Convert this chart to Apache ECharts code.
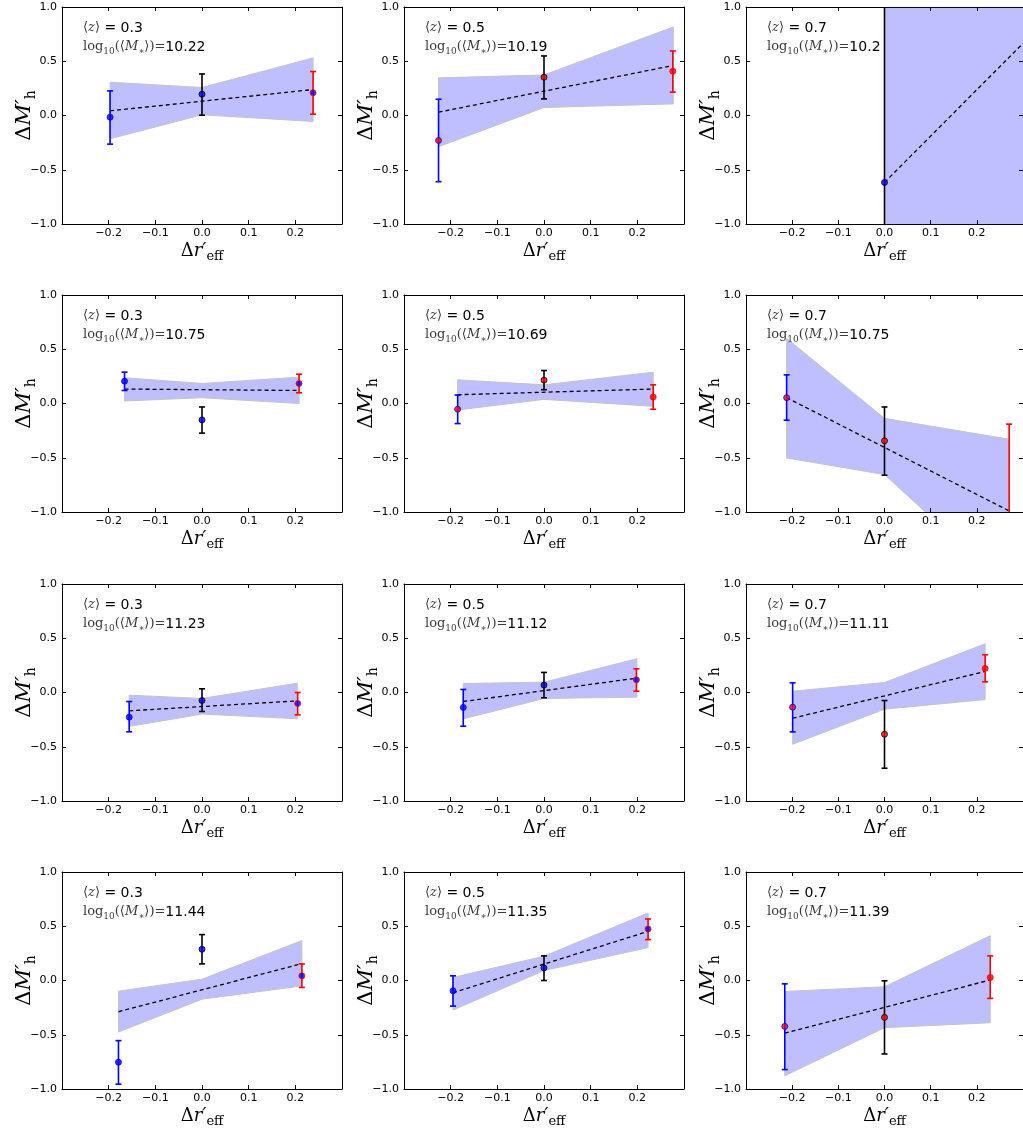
<!DOCTYPE html>
<html>
<head>
<meta charset="utf-8">
<script src="https://cdn.jsdelivr.net/npm/echarts@6/dist/echarts.min.js"></script>
<style>
html, body { margin: 0; padding: 0; background: #fff; }
#chart { width: 1023px; height: 1132px; }
</style>
</head>
<body>
<div id="chart"></div>
<script>
// 12 panels, read row by row (rows: mass bins, columns: redshift)
var zMean = ['0.3', '0.5', '0.7', '0.3', '0.5', '0.7', '0.3', '0.5', '0.7', '0.3', '0.5', '0.7'];
var logMass = ['10.22', '10.19', '10.2', '10.75', '10.69', '10.75', '11.23', '11.12', '11.11', '11.44', '11.35', '11.39'];

// three points per panel: blue (small r_eff), black (middle), red (large r_eff)
var pointX = [
    [-0.197, 0, 0.238], [-0.226, 0, 0.276], [null, 0, null],
    [-0.166, 0, 0.208], [-0.185, 0, 0.234], [-0.212, 0, 0.270],
    [-0.156, 0, 0.205], [-0.173, 0, 0.198], [-0.199, 0, 0.218],
    [-0.179, 0, 0.214], [-0.195, 0, 0.223], [-0.216, 0, 0.229]
];
var pointY = [
    [-0.015, 0.196, 0.209], [-0.230, 0.353, 0.408], [null, -0.617, null],
    [0.206, -0.151, 0.185], [-0.053, 0.215, 0.060], [0.054, -0.344, -1.070],
    [-0.227, -0.074, -0.101], [-0.138, 0.068, 0.117], [-0.135, -0.385, 0.222],
    [-0.753, 0.288, 0.043], [-0.095, 0.116, 0.475], [-0.423, -0.340, 0.028]
];
var errLow = [
    [-0.264, 0.003, 0.012], [-0.610, 0.153, 0.215], [null, -1.500, null],
    [0.120, -0.273, 0.099], [-0.185, 0.127, -0.053], [-0.154, -0.661, -1.900],
    [-0.362, -0.175, -0.206], [-0.311, -0.049, 0.012], [-0.363, -0.698, 0.098],
    [-0.956, 0.153, -0.064], [-0.236, 0.000, 0.377], [-0.821, -0.677, -0.165]
];
var errHigh = [
    [0.227, 0.383, 0.405], [0.150, 0.549, 0.595], [null, 1.500, null],
    [0.289, -0.032, 0.270], [0.078, 0.304, 0.172], [0.264, -0.032, -0.190],
    [-0.083, 0.034, 0.000], [0.028, 0.185, 0.218], [0.089, -0.074, 0.348],
    [-0.554, 0.423, 0.153], [0.043, 0.227, 0.567], [-0.031, -0.003, 0.227]
];
var faceColor = ['b', 'r', 'b', 'b', 'r', 'r', 'b', 'b', 'r', 'b', 'b', 'r'];

// confidence band of the fit
var bandX = [
    [-0.197, 0, 0.238], [-0.226, 0, 0.277], [0, 0.32],
    [-0.166, 0, 0.208], [-0.185, 0, 0.234], [-0.212, 0, 0.268],
    [-0.156, 0, 0.204], [-0.173, 0, 0.199], [-0.199, 0, 0.218],
    [-0.179, 0, 0.214], [-0.195, 0, 0.223], [-0.216, 0, 0.229]
];
var bandUp = [
    [0.307, 0.258, 0.531], [0.347, 0.374, 0.816], [1.5, 1.5],
    [0.237, 0.185, 0.243], [0.218, 0.172, 0.289], [0.600, -0.137, -0.328],
    [-0.025, -0.055, 0.086], [0.083, 0.095, 0.311], [0.012, 0.092, 0.449],
    [-0.098, 0.012, 0.368], [0.028, 0.224, 0.622], [-0.101, -0.058, 0.413]
];
var bandLow = [
    [-0.215, 0.006, -0.055], [-0.288, 0.074, 0.107], [-1.5, -1.5],
    [0.023, 0.053, 0.000], [-0.060, 0.038, -0.026], [-0.502, -0.655, -1.700],
    [-0.313, -0.199, -0.242], [-0.243, -0.055, -0.043], [-0.477, -0.154, -0.065],
    [-0.475, -0.172, -0.050], [-0.273, 0.092, 0.303], [-0.879, -0.435, -0.389]
];

// dashed fit line
var fitX = [
    [-0.197, 0.238], [-0.226, 0.276], [0, 0.3],
    [-0.166, 0.208], [-0.185, 0.234], [-0.212, 0.270],
    [-0.156, 0.205], [-0.173, 0.198], [-0.199, 0.218],
    [-0.179, 0.214], [-0.195, 0.223], [-0.216, 0.229]
];
var fitY = [
    [0.043, 0.239], [0.031, 0.460], [-0.617, 0.665],
    [0.133, 0.120], [0.081, 0.133], [0.054, -0.990],
    [-0.169, -0.077], [-0.083, 0.132], [-0.237, 0.194],
    [-0.288, 0.156], [-0.113, 0.453], [-0.484, 0.005]
];

var colors = { b: '#0000ff', r: '#ff0000', k: '#000000' };
var barColor = ['#0000ff', '#000000', '#ff0000'];

var gridLeft = [62, 404, 746];
var gridTop = [7, 295, 584, 872];
var W = 280, H = 217;

var myChart = echarts.init(document.getElementById('chart'));

function tickFmt(v) {
    if (Math.abs(v) < 1e-9) v = 0;
    return v.toFixed(1).replace('-', '\u2212');
}

var mathColor = '#3a3a3a';
var serif = 'DejaVu Serif';
var sans = 'DejaVu Sans';

var xNameRich = {
    d: { fontFamily: serif, fontSize: 18, lineHeight: 24, color: '#000' },
    i: { fontFamily: serif, fontStyle: 'italic', fontSize: 18, lineHeight: 24, color: '#000' },
    s: { fontFamily: serif, fontSize: 13, lineHeight: 13, verticalAlign: 'bottom', color: '#000' }
};
var yNameRich = {
    d: { fontFamily: serif, fontSize: 21, lineHeight: 26, color: '#000' },
    i: { fontFamily: serif, fontStyle: 'italic', fontSize: 21, lineHeight: 26, color: '#000' },
    s: { fontFamily: serif, fontSize: 14, lineHeight: 14, verticalAlign: 'bottom', color: '#000' }
};

var noteRich = {
    m: { fontFamily: serif, fontWeight: 'normal', fontSize: 13, lineHeight: 18, color: mathColor },
    mi: { fontFamily: serif, fontWeight: 'normal', fontStyle: 'italic', fontSize: 13, lineHeight: 18, color: mathColor },
    ms: { fontFamily: serif, fontWeight: 'normal', fontSize: 9, lineHeight: 9, verticalAlign: 'bottom', color: mathColor },
    t: { fontFamily: sans, fontWeight: 'normal', fontSize: 14, lineHeight: 18, color: '#000' }
};

var option = {
    animation: false,
    backgroundColor: '#ffffff',
    grid: [],
    xAxis: [],
    yAxis: [],
    title: [],
    series: []
};

var axisLine = { show: true, onZero: false, lineStyle: { color: '#000', width: 1 } };
var axisTick = { show: true, inside: true, length: 4, lineStyle: { color: '#000', width: 1 } };

for (var i = 0; i < 12; i++) {
    var row = Math.floor(i / 3), col = i % 3;
    var gl = gridLeft[col], gt = gridTop[row];
    option.grid.push({ left: gl, top: gt, width: W, height: H, show: false });

    option.xAxis.push({
        gridIndex: i, type: 'value', position: 'bottom',
        min: -0.3, max: 0.3, interval: 0.1,
        axisLine: axisLine, axisTick: axisTick, splitLine: { show: false },
        axisLabel: {
            showMinLabel: false, showMaxLabel: false, margin: 4,
            fontFamily: sans, fontSize: 11, color: '#000', formatter: tickFmt
        },
        name: '{d|\u0394}{i|r\u2032}{s|eff}', nameLocation: 'middle', nameGap: 15,
        nameMoveOverlap: false,
        nameTextStyle: { rich: xNameRich }
    });
    option.xAxis.push({
        gridIndex: i, type: 'value', position: 'top',
        min: -0.3, max: 0.3, interval: 0.1,
        axisLine: axisLine, axisTick: axisTick, splitLine: { show: false },
        axisLabel: { show: false }
    });
    option.yAxis.push({
        gridIndex: i, type: 'value', position: 'left',
        min: -1, max: 1, interval: 0.5,
        axisLine: axisLine, axisTick: axisTick, splitLine: { show: false },
        axisLabel: { margin: 5, fontFamily: sans, fontSize: 11, color: '#000', formatter: tickFmt },
        name: '{d|\u0394}{i|M\u2032}{s|h}', nameLocation: 'middle', nameGap: 24,
        nameMoveOverlap: false,
        nameTextStyle: { rich: yNameRich }
    });
    option.yAxis.push({
        gridIndex: i, type: 'value', position: 'right',
        min: -1, max: 1, interval: 0.5,
        axisLine: axisLine, axisTick: axisTick, splitLine: { show: false },
        axisLabel: { show: false }
    });

    // annotation
    option.title.push({
        left: gl + 21, top: gt + 12, padding: 0,
        text: '{m|\u27E8}{mi|z}{m|\u27E9}{t| = ' + zMean[i] + '}',
        textStyle: { fontWeight: 'normal', rich: noteRich }
    });
    option.title.push({
        left: gl + 21, top: gt + 31, padding: 0,
        text: '{m|log}{ms|10}{m|(\u27E8}{mi|M}{ms|\u2217}{m|\u27E9)=}{t|' + logMass[i] + '}',
        textStyle: { fontWeight: 'normal', rich: noteRich }
    });

    var xi = 2 * i, yi = 2 * i;

    // band
    option.series.push({
        type: 'custom', xAxisIndex: xi, yAxisIndex: yi, z: 1, silent: true, clip: true,
        data: bandX[i].map(function (x, j) { return [x, bandUp[i][j], bandLow[i][j]]; }),
        renderItem: (function (k) {
            return function (params, api) {
                if (params.dataIndex !== 0) return null;
                var up = [], lo = [];
                for (var j = 0; j < bandX[k].length; j++) {
                    up.push(api.coord([bandX[k][j], bandUp[k][j]]));
                    lo.unshift(api.coord([bandX[k][j], bandLow[k][j]]));
                }
                var cs = params.coordSys;
                return {
                    type: 'polygon',
                    shape: { points: up.concat(lo) },
                    style: { fill: 'rgba(0,0,255,0.25)', stroke: '#c4c4c4', lineWidth: 1 },
                    clipPath: { type: 'rect', shape: { x: cs.x, y: cs.y, width: cs.width, height: cs.height } }
                };
            };
        })(i)
    });

    // dashed fit
    option.series.push({
        type: 'line', xAxisIndex: xi, yAxisIndex: yi, z: 3, silent: true,
        symbol: 'none',
        data: fitX[i].map(function (x, j) { return [x, fitY[i][j]]; }),
        lineStyle: { color: '#000', width: 1.3, type: [4, 3] }
    });

    // error bars
    var bars = [], marks = [];
    for (var p = 0; p < 3; p++) {
        if (pointX[i][p] === null) continue;
        bars.push([pointX[i][p], pointY[i][p], errLow[i][p], errHigh[i][p], p]);
        marks.push({
            value: [pointX[i][p], pointY[i][p]],
            itemStyle: { color: colors[faceColor[i]], borderColor: barColor[p], borderWidth: 1 }
        });
    }
    option.series.push({
        type: 'custom', xAxisIndex: xi, yAxisIndex: yi, z: 4, silent: true, clip: true,
        data: bars,
        renderItem: function (params, api) {
            var x = api.value(0);
            var a = api.coord([x, api.value(2)]);
            var b = api.coord([x, api.value(3)]);
            var c = barColor[api.value(4)];
            var cap = 3;
            var st = { stroke: c, lineWidth: 1.6 };
            var cs = params.coordSys;
            return {
                type: 'group',
                clipPath: { type: 'rect', shape: { x: cs.x, y: cs.y, width: cs.width, height: cs.height } },
                children: [
                    { type: 'line', shape: { x1: a[0], y1: a[1], x2: b[0], y2: b[1] }, style: st },
                    { type: 'line', shape: { x1: a[0] - cap, y1: a[1], x2: a[0] + cap, y2: a[1] }, style: st },
                    { type: 'line', shape: { x1: b[0] - cap, y1: b[1], x2: b[0] + cap, y2: b[1] }, style: st }
                ]
            };
        }
    });

    // markers
    option.series.push({
        type: 'scatter', xAxisIndex: xi, yAxisIndex: yi, z: 5, silent: true,
        symbol: 'circle', symbolSize: 6, clip: true,
        data: marks
    });
}

myChart.setOption(option);
</script>
</body>
</html>
